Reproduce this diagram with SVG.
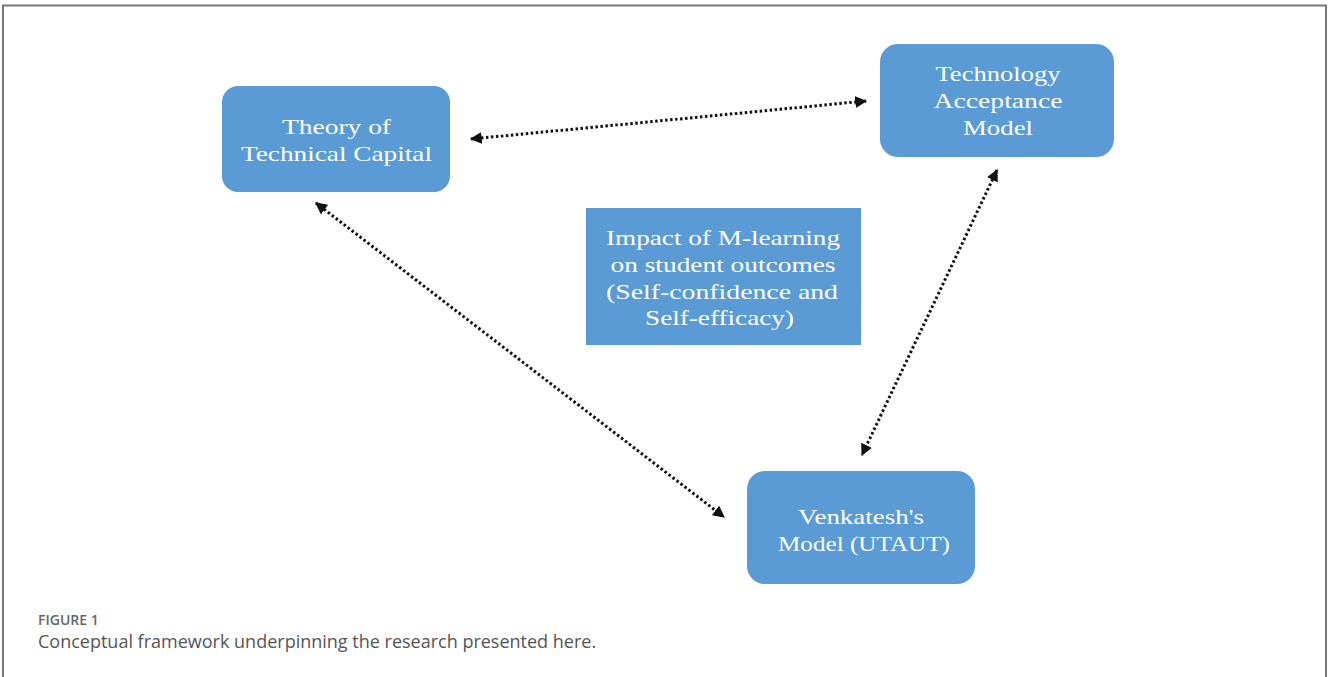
<svg xmlns="http://www.w3.org/2000/svg" width="1328" height="677" viewBox="0 0 1328 677">
<defs>
<style>
.box{fill:#5B9BD5;}
.lbl{font-family:"Liberation Serif","Times New Roman",serif;font-size:22px;fill:#ffffff;text-anchor:middle;}
.conn{stroke:#111;stroke-width:3;stroke-dasharray:2.5 2.5;fill:none;}
.cap1{font-family:"Open Sans","Lato",sans-serif;font-size:14px;fill:#666;font-weight:600;}
.cap2{font-family:"Open Sans","Lato",sans-serif;font-size:18px;fill:#555;}
</style>
<marker id="ah" viewBox="0 0 10 10" refX="9" refY="5" markerWidth="4" markerHeight="4" orient="auto-start-reverse" markerUnits="strokeWidth">
<path d="M0,0 L10,5 L0,10 z" fill="#111"/>
</marker>
</defs>
<rect x="0" y="0" width="1328" height="677" fill="#ffffff"/>
<path d="M3,677 V5.5 H1326 V677" fill="none" stroke="#777" stroke-width="2"/>
<g id="connectors">
<line class="conn" x1="471" y1="139" x2="866" y2="101" marker-start="url(#ah)" marker-end="url(#ah)"/>
<line class="conn" x1="316" y1="203" x2="724" y2="517" marker-start="url(#ah)" marker-end="url(#ah)"/>
<line class="conn" x1="997" y1="170" x2="862" y2="455" marker-start="url(#ah)" marker-end="url(#ah)"/>
</g>
<g id="node-theory">
<rect class="box" x="222" y="86" width="228" height="106" rx="16"/>
<text class="lbl" x="336.5" y="134" textLength="109" lengthAdjust="spacingAndGlyphs">Theory of</text>
<text class="lbl" x="336.5" y="161" textLength="191" lengthAdjust="spacingAndGlyphs">Technical Capital</text>
</g>
<g id="node-tam">
<rect class="box" x="880" y="44" width="234" height="113" rx="18"/>
<text class="lbl" x="998" y="81" textLength="125" lengthAdjust="spacingAndGlyphs">Technology</text>
<text class="lbl" x="998" y="108" textLength="129" lengthAdjust="spacingAndGlyphs">Acceptance</text>
<text class="lbl" x="998" y="135" textLength="70" lengthAdjust="spacingAndGlyphs">Model</text>
</g>
<g id="node-impact">
<rect class="box" x="586" y="208" width="275" height="137"/>
<text class="lbl" x="723" y="245" textLength="234" lengthAdjust="spacingAndGlyphs">Impact of M-learning</text>
<text class="lbl" x="723" y="272" textLength="225" lengthAdjust="spacingAndGlyphs">on student outcomes</text>
<text class="lbl" x="722" y="299" textLength="232" lengthAdjust="spacingAndGlyphs">(Self-confidence and</text>
<text class="lbl" x="719.5" y="325" textLength="149" lengthAdjust="spacingAndGlyphs">Self-efficacy)</text>
</g>
<g id="node-utaut">
<rect class="box" x="747" y="471" width="228" height="113" rx="18"/>
<text class="lbl" x="861" y="524" textLength="126" lengthAdjust="spacingAndGlyphs">Venkatesh's</text>
<text class="lbl" x="864" y="551" textLength="172" lengthAdjust="spacingAndGlyphs">Model (UTAUT)</text>
</g>
<g id="caption">
<text class="cap1" x="38" y="625">FIGURE 1</text>
<text class="cap2" x="38" y="648">Conceptual framework underpinning the research presented here.</text>
</g>
</svg>
